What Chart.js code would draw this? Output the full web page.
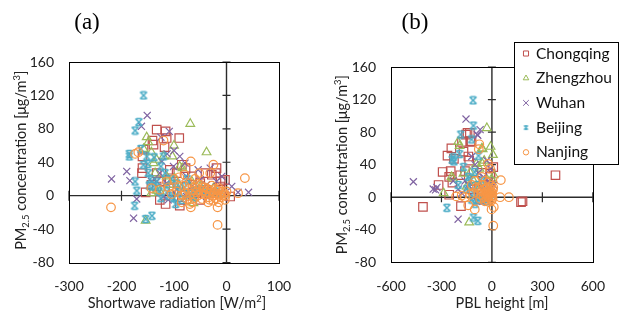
<!DOCTYPE html>
<html><head><meta charset="utf-8">
<script src="https://cdn.jsdelivr.net/npm/chart.js@4"></script>
<style>
body{margin:0;background:#fff;width:621px;height:327px;overflow:hidden;position:relative}
canvas{position:absolute;top:0}
#ca{left:0} #cb{left:310px}
</style></head>
<body>
<canvas id="ca" width="310" height="327"></canvas>
<canvas id="cb" width="311" height="327"></canvas>
<script>
// ---------- DATA ----------
const cities = ['Chongqing','Zhengzhou','Wuhan','Beijing','Nanjing'];
const xTicksA = [-300,-200,-100,0,100];
const xTicksB = [-600,-300,0,300,600];
const yTicks = [-80,-40,0,40,80,120,160];

// (a) Shortwave radiation [W/m2] vs PM2.5
const chongqingA = [[-133,79],[-116,77],[-114,69],[-90,69],[-141,66],[-118,58],[-139,61],[-158,55],[-160,47],[-160,33],[-161,27],[-133,27],[-108,31],[-95,27],[-85,37],[-78,33],[-40,27],[-19,33],[-20,27],[-28,25],[-3,19],[-11,17],[-154,4],[-127,-5],[-116,-10],[-89,-12],[7,-1],[-108,19],[-133,11],[-50,15],[-66,23],[-76,11],[-38,7],[-101,5],[-57,3],[-127,17],[-143,13],[-25,3],[-12,11],[-85,-5],[-50,-5]];
const zhengzhouA = [[-69,86],[-38,52],[-100,60],[-152,70],[-149,64],[-158,56],[-143,52],[-139,39],[-120,47],[-103,47],[-133,43],[-89,35],[-84,33],[-154,-30],[-136,27],[-114,23],[-99,21],[-50,11],[-127,5],[-89,11],[-66,17],[-25,9],[-133,6],[-76,-1],[-108,13],[-38,3],[-143,3],[-63,-9]];
const wuhanA = [[-151,96],[-162,83],[-109,77],[-219,20],[-190,29],[-184,18],[-171,-4],[-177,-27],[-125,70],[-113,50],[-123,41],[-79,39],[-89,47],[-100,54],[-54,31],[-31,33],[-9,23],[22,4],[42,4],[10,11],[-127,27],[-101,35],[-76,23],[-50,19],[-143,17],[-114,15],[-38,13],[-19,17],[-95,7],[-66,11],[-111,-5],[-76,-1],[-38,-1],[-120,-1],[-133,17]];
const beijingA = [[-158,120],[-167,88],[-174,78],[-185,50],[-185,47],[-174,17],[-171,6],[-175,-12],[-154,-28],[-142,-24],[-163,56],[-152,47],[-138,46],[-158,37],[-149,27],[-133,17],[-114,10],[-97,-10],[-120,47],[-117,27],[-139,11],[-128,5],[-105,20],[-110,0],[-90,5],[-80,10],[-70,2],[-60,6],[-100,-3],[-125,-3],[-85,-5],[-50,8],[-40,5],[-30,3],[-20,5],[-10,2],[-145,20],[-125,35],[-95,15],[-75,20],[-60,-2],[-150,38],[-147,12]];
const nanjingA = [[-220,-14],[-174,50],[-168,52],[-120,66],[-68,41],[-25,37],[-52,27],[-31,27],[35,21],[22,3],[-17,-14],[-17,-35],[-68,-14],[-143,9],[-114,17],[-127,7],[-95,5],[-90,10],[-85,0],[-80,12],[-78,3],[-75,-4],[-72,8],[-70,15],[-68,2],[-65,6],[-62,-3],[-60,10],[-58,4],[-55,0],[-52,7],[-50,13],[-48,2],[-46,-4],[-44,6],[-42,10],[-40,1],[-38,4],[-36,8],[-34,-2],[-32,3],[-30,6],[-28,12],[-26,0],[-24,4],[-22,8],[-20,-3],[-18,2],[-16,6],[-14,0],[-12,3],[-10,-2],[-8,5],[-6,1],[-4,3],[-2,0],[-3,-5],[-15,-8],[-25,-6],[-35,-8],[-45,10],[-55,14],[-65,-8],[-85,-8],[-105,2],[-110,10],[-100,20],[-90,22],[-80,25],[-60,20],[-70,-10],[-15,9],[-32,-5],[0,5]];

// (b) PBL height [m] vs PM2.5
const chongqingB = [[378,27],[182,-5],[173,-6],[-410,-12],[-184,-11],[-254,3],[-317,15],[-293,31],[-264,51],[-241,60],[-245,32],[-254,25],[-235,18],[-154,77],[-131,79],[-121,68],[-178,68],[-169,56],[-140,50],[-188,27],[-160,32],[-135,45],[-145,79],[-128,69],[-226,47],[-100,20],[-80,10],[-60,30],[-40,15],[-20,5],[-10,25],[8,37],[-8,29],[-120,10],[-70,-3]];
const zhengzhouB = [[-30,85],[-8,62],[-55,59],[6,52],[-201,68],[-192,63],[-287,5],[-135,-31],[-232,23],[-169,29],[-93,41],[-46,45],[-74,35],[-112,21],[-27,21],[2,21],[11,27],[-150,13],[-74,11],[-8,7],[-27,0],[-60,60],[-60,42],[-240,25],[-130,30]];
const wuhanB = [[-467,19],[-349,10],[-327,12],[-335,9],[-201,-27],[-154,96],[-87,77],[-70,83],[-84,76],[-120,50],[-100,40],[-80,30],[-50,25],[-30,45],[-20,20],[-10,35],[10,15],[-140,15],[-160,20],[-60,10],[-40,5],[-110,0],[-90,-5],[-180,5],[-20,-3],[5,3],[-230,20],[-200,10]];
const beijingB = [[-112,119],[-110,88],[-186,77],[-230,49],[-226,44],[-121,71],[-80,51],[-192,53],[-268,-13],[-110,-25],[-84,-29],[-236,46],[-169,37],[-141,25],[-103,31],[-150,10],[-130,20],[-110,5],[-90,15],[-70,0],[-60,20],[-40,8],[-30,-5],[-20,12],[-10,3],[-100,-8],[-80,-3],[-120,-3],[-50,-2],[-200,15]];
const nanjingB = [[-75,65],[-78,59],[-23,41],[-11,35],[53,21],[49,0],[101,0],[11,-12],[-2,-15],[8,-35],[-102,-15],[-141,-10],[-213,1],[-80,5],[-75,10],[-70,-2],[-65,3],[-60,8],[-55,15],[-50,0],[-45,5],[-42,-5],[-40,10],[-35,2],[-32,6],[-30,-3],[-28,12],[-25,4],[-22,0],[-20,8],[-18,-6],[-15,3],[-12,10],[-10,-2],[-8,5],[-6,1],[-4,7],[-2,-4],[0,2],[2,5],[4,-1],[6,9],[-90,12],[-100,20],[-110,5],[-120,15],[-130,3],[-160,0],[-180,2],[-60,25],[-40,20],[-20,18],[-5,14],[8,12]];

// ---------- STYLE ----------
const colors = ['#C0504D','#9BBB59','#8064A2','#4BACC6','#F79646'];
const TICKFONT = {family:'Lato', size:14};

function starImg(size, color, lw){
  const c = document.createElement('canvas');
  c.width = size; c.height = size;
  const g = c.getContext('2d');
  g.strokeStyle = color; g.lineWidth = lw;
  const a = 1.5, b = size - 1.5;
  g.beginPath();
  g.moveTo(a,a); g.lineTo(b,b);
  g.moveTo(b,a); g.lineTo(a,b);
  g.moveTo(a+1,a); g.lineTo(b-1,a);
  g.moveTo(a+1,b); g.lineTo(b-1,b);
  g.stroke();
  return c;
}
const starBig = starImg(10, colors[3], 1.5);
const starSmall = starImg(7, colors[3], 1.1);

const styles = [
  {pointStyle:'rect', radius:6, legendRadius:3.6},
  {pointStyle:'triangle', radius:5, legendRadius:3.2},
  {pointStyle:'crossRot', radius:5, legendRadius:4},
  {pointStyle:starBig, radius:5, legendRadius:3.5},
  {pointStyle:'circle', radius:4.3, legendRadius:2.7}
];

function toPts(arr){ return arr.map(p => ({x:p[0], y:p[1]})); }

function makeDatasets(series){
  return series.map((arr,i)=>({
    label: cities[i],
    data: toPts(arr),
    pointStyle: styles[i].pointStyle,
    pointRadius: styles[i].radius,
    pointHoverRadius: styles[i].radius,
    borderColor: colors[i],
    backgroundColor: 'rgba(0,0,0,0)',
    pointBorderWidth: 1.2,
    order: 4 - i
  }));
}

function drawRich(ctx, segs, cx, cy, size, rotate){
  ctx.save();
  ctx.translate(cx, cy);
  if (rotate) ctx.rotate(-Math.PI/2);
  ctx.fillStyle = '#222';
  ctx.textBaseline = 'alphabetic';
  let w = 0;
  const parts = segs.map(s => {
    const fs = s.s === 'n' ? size : size*0.65;
    ctx.font = fs + 'px Lato';
    const m = ctx.measureText(s.t).width;
    w += m;
    return {t:s.t, fs, m, dy: s.s==='sub' ? size*0.2 : (s.s==='sup' ? -size*0.4 : 0)};
  });
  let x = -w/2;
  const base = size*0.35;
  parts.forEach(p => {
    ctx.font = p.fs + 'px Lato';
    ctx.fillText(p.t, x, base + p.dy);
    x += p.m;
  });
  ctx.restore();
}

const decor = {
  id:'decor',
  beforeDatasetsDraw(chart){
    const o = chart.options.plugins.decor;
    const ctx = chart.ctx, a = chart.chartArea;
    const xs = chart.scales.x, ys = chart.scales.y;
    const x0 = xs.getPixelForValue(0), y0 = ys.getPixelForValue(0);
    ctx.save();
    ctx.strokeStyle = '#2b2b2b'; ctx.lineWidth = 1.4;
    ctx.beginPath();
    ctx.moveTo(a.left, y0); ctx.lineTo(a.right, y0);
    ctx.moveTo(x0, a.top); ctx.lineTo(x0, a.bottom);
    ctx.stroke();
    ctx.lineWidth = 1.2;
    ctx.beginPath();
    o.xTicks.forEach(v => { const px = xs.getPixelForValue(v); ctx.moveTo(px, y0-5); ctx.lineTo(px, y0+5); });
    yTicks.forEach(v => { const py = ys.getPixelForValue(v); ctx.moveTo(x0-4, py); ctx.lineTo(x0+4, py); });
    ctx.stroke();
    ctx.strokeStyle = '#000'; ctx.lineWidth = 1;
    ctx.strokeRect(Math.round(a.left)+0.5, Math.round(a.top)+0.5, Math.round(a.right-a.left), Math.round(a.bottom-a.top));
    ctx.restore();
  },
  afterDraw(chart){
    const o = chart.options.plugins.decor;
    const ctx = chart.ctx, a = chart.chartArea;
    ctx.save();
    ctx.fillStyle = '#000';
    ctx.font = '23px "Liberation Serif"';
    ctx.textAlign = 'center'; ctx.textBaseline = 'middle';
    ctx.fillText(o.panel, o.panelX, 23);
    ctx.restore();
    drawRich(ctx, o.xTitle, (a.left+a.right)/2 + o.xTitleDx, 303, 14.5, false);
    drawRich(ctx, [{t:'PM',s:'n'},{t:'2.5',s:'sub'},{t:' concentration [μg/m',s:'n'},{t:'3',s:'sup'},{t:']',s:'n'}], o.yTitleX, (a.top+a.bottom)/2 + o.yTitleDy, 14.5, true);
    if (o.legend) {
      const L = o.legend;
      ctx.save();
      ctx.fillStyle = '#fff';
      ctx.fillRect(L.x, L.y, L.w, L.h);
      ctx.strokeStyle = '#000'; ctx.lineWidth = 1;
      ctx.strokeRect(L.x+0.5, L.y+0.5, L.w, L.h);
      ctx.font = '15.5px Lato';
      ctx.textBaseline = 'middle';
      cities.forEach((c,i) => {
        const ry = L.y + 11.5 + i*24.7;
        const mx = L.x + 12;
        ctx.strokeStyle = colors[i];
        ctx.fillStyle = 'rgba(0,0,0,0)';
        ctx.lineWidth = 1;
        if (i === 3) ctx.drawImage(starSmall, mx-3.5, ry-3.5);
        else Chart.helpers.drawPoint(ctx, {pointStyle: styles[i].pointStyle, rotation:0, radius: styles[i].legendRadius, borderWidth:1}, mx, ry);
        ctx.fillStyle = '#111';
        ctx.fillText(c, L.x + 22, ry);
      });
      ctx.restore();
    }
  }
};

function makeChart(id, series, xmin, xmax, step, yW, pad, xH, deco){
  return new Chart(document.getElementById(id), {
    type:'scatter',
    data:{datasets: makeDatasets(series)},
    options:{
      responsive:false, animation:false,
      layout:{padding:pad},
      plugins:{legend:{display:false}, tooltip:{enabled:false}, decor:deco},
      scales:{
        x:{type:'linear', min:xmin, max:xmax,
           ticks:{stepSize:step, font:TICKFONT, color:'#222', padding:16, maxRotation:0},
           grid:{display:false, drawTicks:false}, border:{display:false},
           afterFit(s){ s.height = xH; }},
        y:{type:'linear', min:-80, max:160,
           ticks:{stepSize:40, font:TICKFONT, color:'#222', padding:15},
           grid:{display:false, drawTicks:false}, border:{display:false},
           afterFit(s){ s.width = yW; }}
      }
    },
    plugins:[decor]
  });
}

makeChart('ca', [chongqingA, zhengzhouA, wuhanA, beijingA, nanjingA], -300, 100, 100, 69,
  {top:62, right:31, left:0, bottom:0}, 64.5,
  {panel:'(a)', panelX:87, xTicks:xTicksA, xTitle:[{t:'Shortwave radiation [W/m',s:'n'},{t:'2',s:'sup'},{t:']',s:'n'}], xTitleDx:3, yTitleX:21, yTitleDy:-2, legend:null});

makeChart('cb', [chongqingB, zhengzhouB, wuhanB, beijingB, nanjingB], -600, 600, 300, 81,
  {top:67, right:19, left:0, bottom:0}, 64.7,
  {panel:'(b)', panelX:105, xTicks:xTicksB, xTitle:[{t:'PBL height [m]',s:'n'}], xTitleDx:10, yTitleX:32, yTitleDy:0,
   legend:{x:204, y:42, w:104, h:122}});
</script>
</body></html>
